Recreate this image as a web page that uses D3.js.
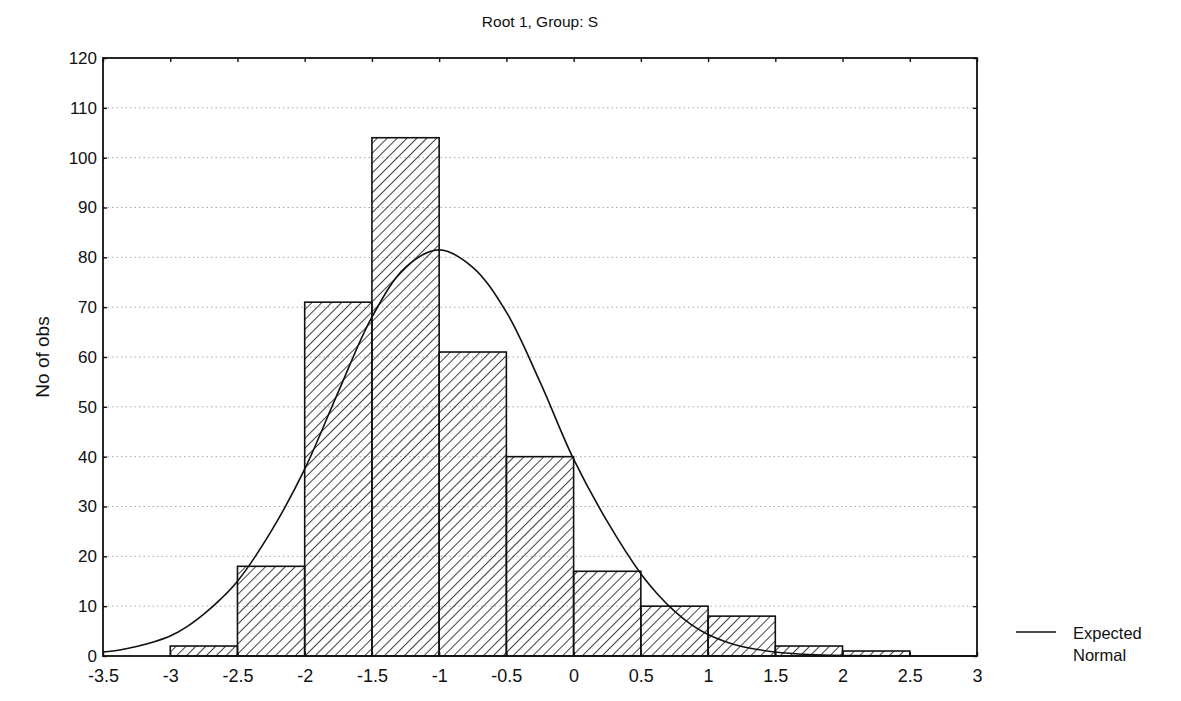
<!DOCTYPE html>
<html><head><meta charset="utf-8">
<script src="https://cdn.jsdelivr.net/npm/d3@7"></script>
<style>
body{margin:0;background:#fff}
text{font-family:"Liberation Sans",Arial,sans-serif;fill:#111}
</style></head>
<body><svg id="chart" width="1181" height="701"></svg>
<script>
// ---- data ----
const binLower = [-3, -2.5, -2, -1.5, -1, -0.5, 0, 0.5, 1, 1.5, 2];
const binUpper = [-2.5, -2, -1.5, -1, -0.5, 0, 0.5, 1, 1.5, 2, 2.5];
const counts   = [2, 18, 71, 104, 61, 40, 17, 10, 8, 2, 1];
const curveX = [-3.5, -3.375, -3.25, -3.125, -3, -2.875, -2.75, -2.625, -2.5, -2.25, -2, -1.75, -1.5, -1.25, -1, -0.75, -0.5, -0.25, 0, 0.25, 0.5, 0.625, 0.75, 0.875, 1, 1.125, 1.25, 1.5, 1.75, 2, 2.5, 3];
const curveY = [0.8, 1.2, 1.9, 2.8, 4, 5.9, 8.4, 11.4, 15, 25, 37.5, 53, 68, 78, 81.5, 78, 69, 55, 39.5, 27, 16.5, 12.4, 9, 6.3, 4.3, 2.9, 1.9, 0.8, 0.3, 0.1, 0, 0];
const xTicks = [-3.5, -3, -2.5, -2, -1.5, -1, -0.5, 0, 0.5, 1, 1.5, 2, 2.5, 3];
const yTicks = [0, 10, 20, 30, 40, 50, 60, 70, 80, 90, 100, 110, 120];
const gridTicks = [10, 20, 30, 40, 50, 60, 70, 80, 90, 100, 110];
const title = "Root 1, Group: S";
const yTitle = "No of obs";
const legendLines = ["Expected", "Normal"];

// ---- layout ----
const svg = d3.select("#chart");
const L = 103, R = 977, T = 58, B = 656;
const x = d3.scaleLinear().domain([-3.5, 3]).range([L, R]);
const y = d3.scaleLinear().domain([0, 120]).range([B, T]);

const defs = svg.append("defs");
const pat = defs.append("pattern").attr("id", "hatch")
  .attr("patternUnits", "userSpaceOnUse").attr("width", 7).attr("height", 7)
  .attr("patternTransform", "rotate(45)");
pat.append("line").attr("x1", 0).attr("y1", 0).attr("x2", 0).attr("y2", 7)
  .attr("stroke", "#111").attr("stroke-width", 1.6);

// grid
svg.append("g").selectAll("line").data(gridTicks).join("line")
  .attr("x1", L).attr("x2", R).attr("y1", d => y(d)).attr("y2", d => y(d))
  .attr("stroke", "#a8a8a8").attr("stroke-width", 1).attr("stroke-dasharray", "1.5,3");

// expected normal curve
const line = d3.line().x((d, i) => x(curveX[i])).y(d => y(d)).curve(d3.curveCatmullRom.alpha(0.5));
svg.append("path").datum(curveY).attr("d", line)
  .attr("fill", "none").attr("stroke", "#111").attr("stroke-width", 1.6);

// bars
svg.append("g").selectAll("rect").data(counts).join("rect")
  .attr("x", (d, i) => x(binLower[i]))
  .attr("width", (d, i) => x(binUpper[i]) - x(binLower[i]))
  .attr("y", d => y(d))
  .attr("height", d => y(0) - y(d))
  .attr("fill", "url(#hatch)").attr("stroke", "#111").attr("stroke-width", 1.6);

// frame
svg.append("rect").attr("x", L).attr("y", T).attr("width", R - L).attr("height", B - T)
  .attr("fill", "none").attr("stroke", "#111").attr("stroke-width", 1.8);

// axes
const fmt = d => String(d);
const yAx = svg.append("g").attr("transform", `translate(${L},0)`)
  .call(d3.axisLeft(y).tickValues(yTicks).tickFormat(fmt).tickSize(-4).tickPadding(6));
const yAxR = svg.append("g").attr("transform", `translate(${R},0)`)
  .call(d3.axisRight(y).tickValues(yTicks).tickFormat("").tickSize(-4));
const xAx = svg.append("g").attr("transform", `translate(0,${B})`)
  .call(d3.axisBottom(x).tickValues(xTicks).tickFormat(fmt).tickSize(-4).tickPadding(13));
const xAxT = svg.append("g").attr("transform", `translate(0,${T})`)
  .call(d3.axisTop(x).tickValues(xTicks).tickFormat("").tickSize(-4));
[yAx, yAxR, xAx, xAxT].forEach(g => {
  g.select(".domain").remove();
  g.selectAll(".tick line").attr("stroke", "#111").attr("stroke-width", 1.4);
  g.selectAll("text").attr("fill", "#111")
    .style("font-family", '"Liberation Sans", Arial, sans-serif');
});
yAx.selectAll("text").attr("font-size", 17);
xAx.selectAll("text").attr("font-size", 18);

// title
svg.append("text").attr("x", (L + R) / 2).attr("y", 27).attr("text-anchor", "middle")
  .attr("font-size", 15.5).text(title);

// y title
svg.append("text").attr("transform", `translate(49,${(T + B) / 2}) rotate(-90)`)
  .attr("text-anchor", "middle").attr("font-size", 19).text(yTitle);

// legend
svg.append("line").attr("x1", 1016).attr("x2", 1056).attr("y1", 632).attr("y2", 632)
  .attr("stroke", "#111").attr("stroke-width", 1.5);
svg.append("g").selectAll("text").data(legendLines).join("text")
  .attr("x", 1073).attr("y", (d, i) => 639 + i * 22).attr("font-size", 16.5).text(d => d);
</script></body></html>
